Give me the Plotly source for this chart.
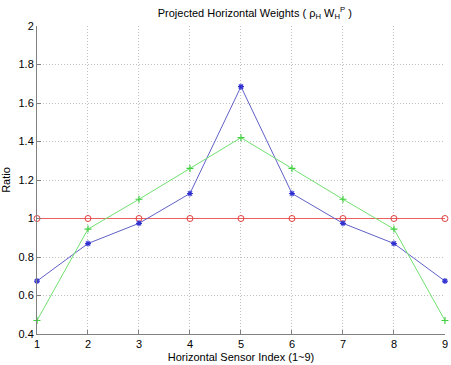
import plotly.graph_objects as go

sensor_index = [1, 2, 3, 4, 5, 6, 7, 8, 9]
ratio_flat = [1, 1, 1, 1, 1, 1, 1, 1, 1]
ratio_blue = [0.675, 0.87, 0.975, 1.13, 1.685, 1.13, 0.975, 0.87, 0.675]
ratio_green = [0.47, 0.945, 1.10, 1.26, 1.42, 1.26, 1.10, 0.945, 0.47]

font = "Liberation Sans, Arial, sans-serif"

fig = go.Figure()
fig.add_trace(go.Scatter(
    x=sensor_index, y=ratio_flat, mode="lines+markers", cliponaxis=False,
    line=dict(color="#e86060", width=1),
    marker=dict(symbol="circle-open", size=6, color="#e04040", line=dict(width=1)),
))
fig.add_trace(go.Scatter(
    x=sensor_index, y=ratio_blue, mode="lines+markers", cliponaxis=False,
    line=dict(color="#6060c8", width=1),
    marker=dict(symbol="asterisk-open", size=5, color="#3030d0", line=dict(width=1.2, color="#3030d0")),
))
fig.add_trace(go.Scatter(
    x=sensor_index, y=ratio_green, mode="lines+markers", cliponaxis=False,
    line=dict(color="#70e070", width=1),
    marker=dict(symbol="cross-thin-open", size=5, color="#40d040", line=dict(width=1.2, color="#40d040")),
))

fig.update_layout(
    width=451, height=365,
    margin=dict(l=37, r=3, t=26, b=30),
    plot_bgcolor="white", paper_bgcolor="white",
    showlegend=False,
    font=dict(family=font, size=11, color="black"),
    title=dict(
        text="Projected Horizontal Weights ( ρ<sub>H</sub> W<sub>H</sub><sup>P</sup> )",
        x=0.565, xanchor="center", y=0.975, yanchor="top",
        font=dict(family=font, size=11, color="black"),
    ),
)
fig.update_xaxes(
    range=[1, 9.001], tickvals=sensor_index, ticks="inside", ticklen=4, tickcolor="#808080",
    showline=True, linecolor="#808080", linewidth=1,
    showgrid=True, gridcolor="#c0c0c0", griddash="1px,2px", gridwidth=1,
    zeroline=False, ticklabeloverflow="allow",
    title=dict(text="Horizontal Sensor Index (1~9)", standoff=4, font=dict(size=11)),
)
fig.update_yaxes(
    range=[0.4, 2], tickvals=[0.4, 0.6, 0.8, 1, 1.2, 1.4, 1.6, 1.8, 2],
    ticktext=["0.4", "0.6", "0.8", "1", "1.2", "1.4", "1.6", "1.8", "2"],
    ticks="inside", ticklen=4, tickcolor="#808080",
    showline=True, linecolor="#808080", linewidth=1,
    showgrid=True, gridcolor="#c0c0c0", griddash="1px,2px", gridwidth=1,
    zeroline=False,
    title=dict(text="Ratio", standoff=6, font=dict(size=11)),
)

fig.write_html("out.html")
